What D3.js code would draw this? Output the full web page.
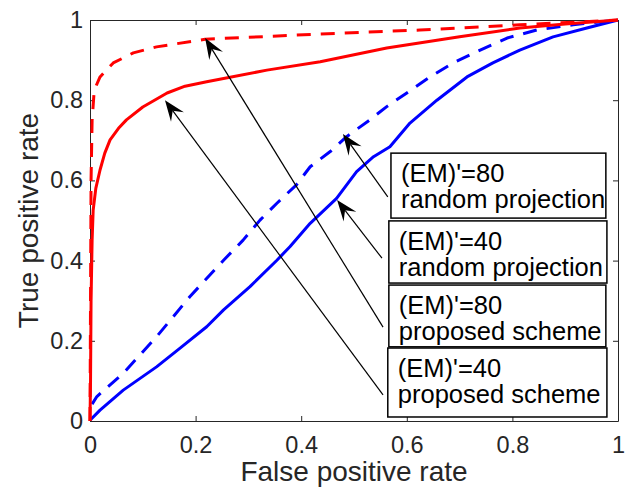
<!DOCTYPE html>
<html lang="en">
<head>
<meta charset="UTF-8">
<title>ROC curves</title>
<script src="https://cdnjs.cloudflare.com/ajax/libs/d3/7.8.5/d3.js"></script>
<style>
    body { margin: 0; background: #fff; }
    svg { display: block; font-family: "Liberation Sans", Arial, sans-serif; }
</style>
</head>
<body>
<svg width="640" height="488"></svg>
<script>
    // ROC curves: [false positive rate, true positive rate]
    const em40Proposed = [[0,0],[0.001,0.1],[0.002,0.3],[0.004,0.45],[0.006,0.526],[0.011,0.58],[0.019,0.626],
        [0.028,0.668],[0.038,0.701],[0.054,0.73],[0.069,0.751],[0.1,0.783],[0.146,0.818],[0.18,0.835],
        [0.221,0.846],[0.335,0.875],[0.436,0.896],[0.562,0.93],[0.7,0.958],[0.814,0.98],[0.9,0.99],[1,1]];
    const em80Proposed = [[0,0],[0.001,0.3],[0.002,0.6],[0.004,0.75],[0.008,0.825],[0.019,0.858],[0.044,0.893],
        [0.082,0.918],[0.126,0.933],[0.218,0.952],[0.436,0.965],[0.625,0.975],[0.814,0.988],[1,1]];
    const em40Random = [[0,0.002],[0.019,0.027],[0.063,0.077],[0.126,0.135],[0.17,0.181],[0.221,0.235],
        [0.253,0.277],[0.303,0.335],[0.354,0.401],[0.379,0.435],[0.417,0.493],[0.467,0.555],[0.505,0.622],
        [0.537,0.659],[0.568,0.684],[0.606,0.743],[0.657,0.8],[0.714,0.858],[0.763,0.893],[0.814,0.925],
        [0.877,0.958],[0.941,0.98],[1,1]];
    const em80Random = [[0.004,0.042],[0.013,0.061],[0.063,0.119],[0.126,0.21],[0.189,0.31],[0.253,0.401],
        [0.29,0.451],[0.322,0.501],[0.354,0.543],[0.391,0.589],[0.417,0.634],[0.455,0.672],[0.486,0.709],
        [0.53,0.751],[0.562,0.784],[0.6,0.818],[0.644,0.858],[0.688,0.893],[0.739,0.925],[0.79,0.955],
        [0.846,0.975],[0.915,0.988],[1,1]];

    const tickValues = [0, 0.2, 0.4, 0.6, 0.8, 1];

    // text boxes with arrows, in data units: box [x0, y0, x1, y1], tail, tip
    const notes = [
        { lines: ["(EM)'=80", "random projection"], box: [0.57, 0.668, 0.977, 0.506], tail: [0.564, 0.559], tip: [0.479, 0.716] },
        { lines: ["(EM)'=40", "random projection"], box: [0.566, 0.499, 0.979, 0.344], tail: [0.553, 0.406], tip: [0.468, 0.551] },
        { lines: ["(EM)'=80", "proposed scheme"], box: [0.566, 0.339, 0.977, 0.185], tail: [0.555, 0.234], tip: [0.218, 0.955] },
        { lines: ["(EM)'=40", "proposed scheme"], box: [0.564, 0.182, 0.979, 0.01], tail: [0.555, 0.065], tip: [0.142, 0.8] }
    ];

    const svg = d3.select("svg");
    const margin = { top: 20, right: 22, bottom: 67, left: 90 };
    const W = 640, H = 488;
    const x = d3.scaleLinear().domain([0, 1]).range([margin.left, W - margin.right]);
    const y = d3.scaleLinear().domain([0, 1]).range([H - margin.bottom, margin.top]);
    const axisColor = "#262626";

    // axes (ticks inward, box on)
    const gx = svg.append("g").attr("transform", `translate(0,${y(0)})`)
        .call(d3.axisBottom(x).tickValues(tickValues).tickSizeInner(-5).tickSizeOuter(0).tickPadding(15).tickFormat(d => String(d)));
    const gy = svg.append("g").attr("transform", `translate(${x(0)},0)`)
        .call(d3.axisLeft(y).tickValues(tickValues).tickSizeInner(-5).tickSizeOuter(0).tickPadding(7).tickFormat(d => String(d)));
    const gt = svg.append("g").attr("transform", `translate(0,${y(1)})`)
        .call(d3.axisTop(x).tickValues(tickValues).tickSizeInner(-5).tickSizeOuter(0).tickFormat(""));
    const gr = svg.append("g").attr("transform", `translate(${x(1)},0)`)
        .call(d3.axisRight(y).tickValues(tickValues).tickSizeInner(-5).tickSizeOuter(0).tickFormat(""));
    [gx, gy, gt, gr].forEach(g => {
        g.selectAll("path, line").attr("stroke", axisColor).attr("stroke-width", 1);
        g.selectAll("text").attr("fill", axisColor).style("font-size", "23.5px").style("font-family", null);
    });

    svg.append("text")
        .attr("x", (x(0) + x(1)) / 2).attr("y", 481)
        .attr("text-anchor", "middle").attr("fill", axisColor)
        .style("font-size", "28px").text("False positive rate");
    svg.append("text")
        .attr("transform", `translate(38,${(y(0) + y(1)) / 2}) rotate(-90)`)
        .attr("text-anchor", "middle").attr("fill", axisColor)
        .style("font-size", "28px").text("True positive rate");

    const line = d3.line().x(d => x(d[0])).y(d => y(d[1]));
    const curves = [
        { data: em40Random, color: "#0000ff", dash: null },
        { data: em80Random, color: "#0000ff", dash: "14,10" },
        { data: em40Proposed, color: "#ff0000", dash: null },
        { data: em80Proposed, color: "#ff0000", dash: "14,10" }
    ];
    svg.append("g").selectAll("path").data(curves).enter().append("path")
        .attr("d", d => line(d.data))
        .attr("fill", "none")
        .attr("stroke", d => d.color)
        .attr("stroke-width", 3)
        .attr("stroke-linejoin", "round")
        .attr("stroke-dasharray", d => d.dash);

    // arrows
    const ga = svg.append("g");
    notes.forEach(n => {
        const x1 = x(n.tail[0]), y1 = y(n.tail[1]), x2 = x(n.tip[0]), y2 = y(n.tip[1]);
        const len = Math.hypot(x2 - x1, y2 - y1);
        const ux = (x2 - x1) / len, uy = (y2 - y1) / len;
        const px = -uy, py = ux;
        const hl = 21, hw = 8, notch = 13;
        ga.append("line").attr("x1", x1).attr("y1", y1)
            .attr("x2", x2 - ux * notch).attr("y2", y2 - uy * notch)
            .attr("stroke", "black").attr("stroke-width", 1.2);
        const pts = [
            [x2, y2],
            [x2 - ux * hl + px * hw, y2 - uy * hl + py * hw],
            [x2 - ux * notch, y2 - uy * notch],
            [x2 - ux * hl - px * hw, y2 - uy * hl - py * hw]
        ];
        ga.append("path").attr("d", "M" + pts.map(p => p.join(",")).join("L") + "Z").attr("fill", "black");
    });

    // text boxes
    const gb = svg.append("g").selectAll("g").data(notes).enter().append("g");
    gb.append("rect")
        .attr("x", d => x(d.box[0])).attr("y", d => y(d.box[1]))
        .attr("width", d => x(d.box[2]) - x(d.box[0]))
        .attr("height", d => y(d.box[3]) - y(d.box[1]))
        .attr("fill", "white").attr("stroke", "black").attr("stroke-width", 1.5);
    gb.each(function (d) {
        const g = d3.select(this);
        d.lines.forEach((t, i) => {
            g.append("text")
                .attr("x", x(d.box[0]) + 10)
                .attr("y", y(d.box[1]) + 29 + i * 26)
                .attr("fill", "black")
                .style("font-size", "25.5px")
                .text(t);
        });
    });
</script>
</body>
</html>
